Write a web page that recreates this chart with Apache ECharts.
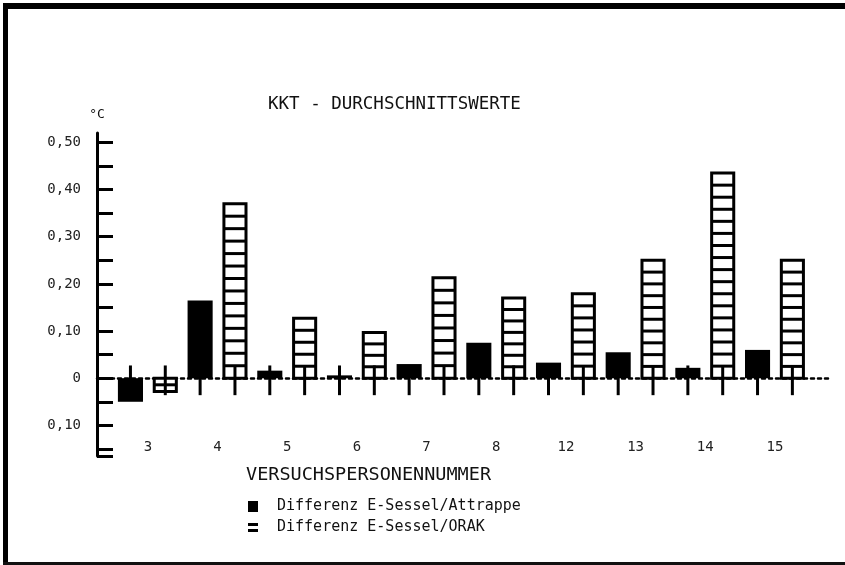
<!DOCTYPE html>
<html>
<head>
<meta charset="utf-8">
<script src="https://cdn.jsdelivr.net/npm/echarts@6.0.0/dist/echarts.min.js"></script>
<style>
  html, body { margin: 0; padding: 0; background: #fff; }
  #chart { width: 845px; height: 565px; }
</style>
</head>
<body>
<div id="chart"></div>
<script>
// Versuchspersonennummer
var categories = ["3", "4", "5", "6", "7", "8", "12", "13", "14", "15"];
// Differenz E-Sessel/Attrappe (°C)
var attrappe = [-0.05, 0.165, 0.016, 0.006, 0.03, 0.075, 0.033, 0.055, 0.022, 0.06];
// Differenz E-Sessel/ORAK (°C)
var orak = [-0.028, 0.37, 0.127, 0.097, 0.213, 0.17, 0.179, 0.25, 0.435, 0.25];
var yLabels = [-0.1, 0, 0.1, 0.2, 0.3, 0.4, 0.5];
var yTicks = [-0.165, -0.15, -0.1, -0.05, 0, 0.05, 0.1, 0.15, 0.2, 0.25, 0.3, 0.35, 0.4, 0.45, 0.5];

var mono = "DejaVu Sans Mono";
var chart = echarts.init(document.getElementById("chart"));

// versatz der beiden balken je kategorie (in kategorie-einheiten)
var OFF = 0.25, BARW = 0.36;

function barRect(api, offset) {
  var x = api.value(0) + offset;
  var top = api.coord([x, api.value(1)]);
  var base = api.coord([x, 0]);
  var w = api.size([BARW, 0])[0];
  return {
    x: top[0] - w / 2,
    y: Math.min(top[1], base[1]),
    w: w,
    h: Math.abs(top[1] - base[1])
  };
}

var option = {
  backgroundColor: "#fff",
  animation: false,
  title: [
    {
      text: "KKT - DURCHSCHNITTSWERTE",
      left: 263,
      top: 90,
      textStyle: { fontFamily: mono, fontSize: 17.5, fontWeight: "normal", color: "#111" }
    },
    {
      text: "VERSUCHSPERSONENNUMMER",
      left: 241,
      top: 461,
      textStyle: { fontFamily: mono, fontSize: 18.5, fontWeight: "normal", color: "#111" }
    }
  ],
  legend: {
    orient: "vertical",
    left: 243,
    top: 494,
    itemGap: 6,
    itemWidth: 10,
    itemHeight: 11,
    data: [
      { name: "Differenz E-Sessel/Attrappe", icon: "rect" },
      { name: "Differenz E-Sessel/ORAK", icon: "path://M0,0H10V3H0Z M0,6H10V9H0Z" }
    ],
    textStyle: { fontFamily: mono, fontSize: 15, color: "#111", padding: [0, 0, 0, 14] }
  },
  grid: { left: 97, right: 15, top: 133, bottom: 109 },
  xAxis: {
    type: "value",
    min: -0.73,
    max: 9.79,
    axisLine: { onZero: true, lineStyle: { color: "#000", width: 2.5, type: [3, 4] } },
    axisTick: { show: false },
    splitLine: { show: false },
    axisLabel: {
      customValues: categories.map(function (c, i) { return i; }),
      formatter: function (v) { return categories[v]; },
      margin: -16,
      fontFamily: mono,
      fontSize: 14,
      color: "#222"
    }
  },
  yAxis: {
    type: "value",
    min: -0.165,
    max: 0.52,
    name: "°C",
    nameLocation: "end",
    nameGap: 12,
    nameTextStyle: { fontFamily: mono, fontSize: 13, color: "#111", align: "center" },
    axisLine: { show: true, onZero: false, lineStyle: { color: "#000", width: 3 } },
    axisTick: {
      show: true,
      inside: true,
      length: 16,
      customValues: yTicks,
      lineStyle: { color: "#000", width: 3 }
    },
    splitLine: { show: false },
    axisLabel: {
      customValues: yLabels,
      margin: 16,
      fontFamily: mono,
      fontSize: 14,
      color: "#222",
      formatter: function (v) {
        if (Math.abs(v) < 1e-9) return "0";
        var n = Math.round(Math.abs(v) * 100);
        return "0," + (n < 10 ? "0" + n : n);
      }
    }
  },
  series: [
    {
      name: "Differenz E-Sessel/Attrappe",
      type: "custom",
      color: "#000",
      data: attrappe.map(function (v, i) { return [i, v]; }),
      renderItem: function (params, api) {
        var r = barRect(api, -OFF);
        return {
          type: "rect",
          shape: { x: r.x, y: r.y, width: r.w, height: Math.max(r.h, 1) },
          style: { fill: "#000" }
        };
      }
    },
    {
      name: "Differenz E-Sessel/ORAK",
      type: "custom",
      color: "#000",
      data: orak.map(function (v, i) { return [i, v]; }),
      renderItem: function (params, api) {
        var r = barRect(api, OFF);
        var lw = 3;
        var children = [{
          type: "rect",
          shape: { x: r.x + lw / 2, y: r.y, width: r.w - lw, height: r.h },
          style: { fill: "#fff", stroke: "#000", lineWidth: lw }
        }];
        var n = Math.ceil(r.h / 12.7);
        var step = r.h / n;
        for (var k = 1; k < n; k++) {
          var yy = r.y + k * step;
          children.push({
            type: "line",
            shape: { x1: r.x + lw / 2, y1: yy, x2: r.x + r.w - lw / 2, y2: yy },
            style: { stroke: "#000", lineWidth: lw }
          });
        }
        return { type: "group", children: children };
      }
    },
    {
      // senkrechte markierungen an jeder balkenposition
      type: "custom",
      silent: true,
      data: categories.map(function (c, i) { return [i, 0]; }),
      renderItem: function (params, api) {
        var kids = [];
        [-OFF, OFF].forEach(function (o) {
          var x = api.value(0) + o;
          var a = api.coord([x, 0.027]);
          var b = api.coord([x, -0.036]);
          kids.push({
            type: "line",
            shape: { x1: a[0], y1: a[1], x2: b[0], y2: b[1] },
            style: { stroke: "#000", lineWidth: 3 }
          });
        });
        return { type: "group", children: kids };
      }
    }
  ],
  graphic: [
    { type: "rect", left: 3, top: 3, shape: { width: 842, height: 6 }, style: { fill: "#000" } },
    { type: "rect", left: 3, top: 3, shape: { width: 5, height: 562 }, style: { fill: "#000" } },
    { type: "rect", left: 3, top: 562, shape: { width: 842, height: 3 }, style: { fill: "#111" } }
  ]
};

chart.setOption(option);
</script>
</body>
</html>
